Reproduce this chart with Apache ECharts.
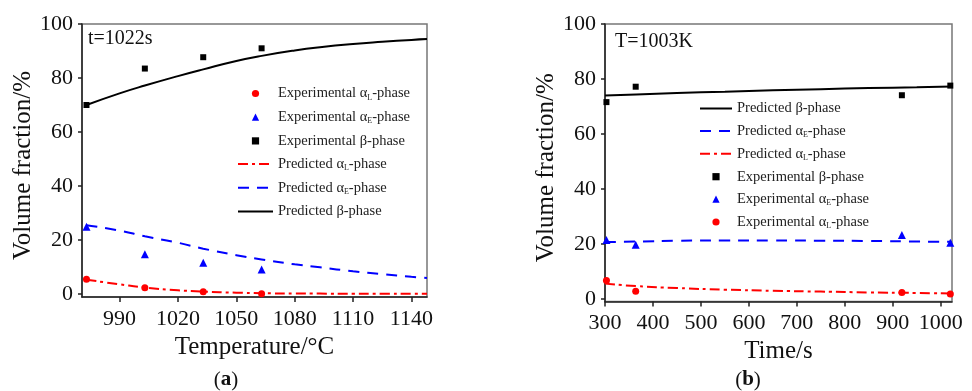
<!DOCTYPE html>
<html>
<head>
<meta charset="utf-8">
<script src="https://cdn.jsdelivr.net/npm/echarts@6/dist/echarts.min.js"></script>
<style>
  html, body { margin: 0; background: #fff; }
  #chart { width: 972px; height: 391px; }
</style>
</head>
<body>
<div id="chart"></div>
<script>
// (a) t=1022s, volume fraction vs temperature
const tempExpX = [973, 1003, 1033, 1063];
const tempExpAlphaL = [5.5, 2.3, 0.8, 0.1];
const tempExpAlphaE = [24.9, 14.7, 11.6, 9.1];
const tempExpBeta = [70, 83.5, 87.7, 91];

const tempPredX = [973, 990, 1003, 1020, 1033, 1050, 1063, 1080, 1093, 1110, 1125, 1140, 1148];
const tempPredAlphaL = [5.3, 3.6, 2.4, 1.4, 0.9, 0.5, 0.3, 0.2, 0.15, 0.1, 0.1, 0.1, 0.1];
const tempPredAlphaE = [25.5, 23.5, 21.4, 19, 16.8, 14.4, 12.8, 11, 9.9, 8.4, 7.4, 6.4, 5.9];
const tempPredBeta = [70, 74.3, 77.2, 80.7, 83.2, 86.3, 88.2, 90.2, 91.4, 92.6, 93.4, 94.1, 94.4];

// (b) T=1003K, volume fraction vs time
const timeExpX = [303, 364, 919, 1020];
const timeExpBeta = [71.6, 77.2, 74.1, 77.6];
const timeExpAlphaE = [21.5, 19.7, 23.3, 20.5];
const timeExpAlphaL = [6.7, 2.8, 2.4, 1.8];

const timePredX = [300, 365, 450, 550, 650, 750, 850, 950, 1023];
const timePredBeta = [74.0, 74.4, 74.9, 75.4, 75.9, 76.3, 76.7, 77.0, 77.3];
const timePredAlphaE = [20.7, 20.9, 21.2, 21.3, 21.3, 21.2, 21.1, 20.9, 20.8];
const timePredAlphaL = [5.6, 4.7, 4.0, 3.4, 3.0, 2.7, 2.4, 2.2, 2.0];

const yTicks = [0, 20, 40, 60, 80, 100];
const tempTicks = [990, 1020, 1050, 1080, 1110, 1140];
const timeTicks = [300, 400, 500, 600, 700, 800, 900, 1000];

const legendLeft = [
  "Experimental αL-phase", "Experimental αE-phase", "Experimental β-phase",
  "Predicted αL-phase", "Predicted αE-phase", "Predicted β-phase"
];
const legendRight = [
  "Predicted β-phase", "Predicted αE-phase", "Predicted αL-phase",
  "Experimental β-phase", "Experimental αE-phase", "Experimental αL-phase"
];

const SERIF = "'Liberation Serif', 'DejaVu Serif', serif";
const RED = "#ff0000";
const BLUE = "#0000ff";
const BLACK = "#000000";

const zip = (xs, ys) => xs.map((x, i) => [x, ys[i]]);

function legendLabel(name) {
  const m = name.match(/^(.*α)([LE])(-phase)$/);
  if (!m) return "{n|" + name + "}";
  return "{n|" + m[1] + "}{s|" + m[2] + "}{n|" + m[3] + "}";
}

const legendRich = {
  n: { fontFamily: SERIF, fontSize: 14.5, color: "#222", lineHeight: 16 },
  s: { fontFamily: SERIF, fontSize: 8, color: "#222", lineHeight: 10, verticalAlign: "bottom" }
};

// predicted lines get no marker in the legend; experimental points get no line
function legendItems(names) {
  return names.map(name => name.startsWith("Predicted")
    ? { name, itemStyle: { opacity: 0 } }
    : { name, lineStyle: { opacity: 0 } });
}

function predLine(name, idx, xs, ys, color, type) {
  return {
    name, type: "line", xAxisIndex: idx, yAxisIndex: idx,
    data: zip(xs, ys), smooth: true, symbol: "none",
    lineStyle: { color, width: 2, type },
    itemStyle: { color }, z: 2
  };
}

// drawn as a line series with a hidden line so the legend marker keeps its shape
function expPoints(name, idx, xs, ys, color, symbol, size) {
  return {
    name, type: "line", xAxisIndex: idx, yAxisIndex: idx,
    data: zip(xs, ys), symbol, symbolSize: size, showSymbol: true,
    lineStyle: { width: 0, opacity: 0 },
    itemStyle: { color }, z: 3
  };
}

function yAxisOpt(idx, min) {
  return {
    type: "value", gridIndex: idx, min, max: 100,
    name: "Volume fraction/%", nameLocation: "middle", nameGap: 31,
    nameTextStyle: { fontFamily: SERIF, fontSize: 25, color: "#111", padding: [0, 10, 0, 0] },
    axisLine: { show: true, onZero: false, lineStyle: { color: "#222", width: 1.5 } },
    axisTick: { show: true, length: 4, customValues: yTicks, lineStyle: { color: "#222", width: 1.5 } },
    axisLabel: { customValues: yTicks, margin: 9, fontFamily: SERIF, fontSize: 22, color: "#111",
      formatter: v => String(v) },
    splitLine: { show: false }
  };
}

function xAxisOpt(idx, min, max, ticks, name) {
  return {
    type: "value", gridIndex: idx, min, max,
    name, nameLocation: "middle", nameGap: 33,
    nameTextStyle: { fontFamily: SERIF, fontSize: 25, color: "#111" },
    axisLine: { show: true, onZero: false, lineStyle: { color: "#222", width: 1.5 } },
    axisTick: { show: true, length: 5, customValues: ticks, lineStyle: { color: "#222", width: 1.5 } },
    axisLabel: { customValues: ticks, margin: 11, fontFamily: SERIF, fontSize: 22, color: "#111",
      formatter: v => String(v) },
    splitLine: { show: false }
  };
}

const chart = echarts.init(document.getElementById("chart"), null, { renderer: "canvas" });

chart.setOption({
  backgroundColor: "#ffffff",
  animation: false,
  grid: [
    { left: 82, top: 24, width: 345, height: 273, show: true, borderColor: "#777", borderWidth: 1.5 },
    { left: 605, top: 24, width: 347, height: 277.5, show: true, borderColor: "#777", borderWidth: 1.5 }
  ],
  xAxis: [
    xAxisOpt(0, 970.7, 1148, tempTicks, "Temperature/°C"),
    xAxisOpt(1, 300, 1023.5, timeTicks, "Time/s")
  ],
  yAxis: [yAxisOpt(0, -1.1), yAxisOpt(1, -0.9)],
  legend: [
    {
      data: legendItems(legendLeft), orient: "vertical", left: 237, top: 86, padding: 0,
      itemWidth: 35, itemHeight: 9, itemGap: 8.2, selectedMode: false,
      formatter: legendLabel, textStyle: { rich: legendRich }
    },
    {
      data: legendItems(legendRight), orient: "vertical", left: 699, top: 101, padding: 0,
      itemWidth: 32, itemHeight: 9, itemGap: 7.4, selectedMode: false,
      formatter: legendLabel, textStyle: { rich: legendRich }
    }
  ],
  graphic: [
    { type: "text", left: 88, top: 29, style: { text: "t=1022s", font: "20px " + SERIF, fill: "#111" } },
    { type: "text", left: 615, top: 32, style: { text: "T=1003K", font: "20px " + SERIF, fill: "#111" } },
    {
      type: "text", x: 226, y: 380,
      style: {
        text: "{p|(}{b|a}{p|)}", align: "center", verticalAlign: "middle",
        rich: {
          p: { fontFamily: SERIF, fontSize: 21, fill: "#111" },
          b: { fontFamily: SERIF, fontSize: 21, fontWeight: "bold", fill: "#111" }
        }
      }
    },
    {
      type: "text", x: 748, y: 380,
      style: {
        text: "{p|(}{b|b}{p|)}", align: "center", verticalAlign: "middle",
        rich: {
          p: { fontFamily: SERIF, fontSize: 21, fill: "#111" },
          b: { fontFamily: SERIF, fontSize: 21, fontWeight: "bold", fill: "#111" }
        }
      }
    }
  ],
  series: [
    expPoints("Experimental αL-phase", 0, tempExpX, tempExpAlphaL, RED, "circle", 7),
    expPoints("Experimental αE-phase", 0, tempExpX, tempExpAlphaE, BLUE, "triangle", 8),
    expPoints("Experimental β-phase", 0, tempExpX, tempExpBeta, BLACK, "rect", 6),
    predLine("Predicted αL-phase", 0, tempPredX, tempPredAlphaL, RED, [10, 4, 3, 4]),
    predLine("Predicted αE-phase", 0, tempPredX, tempPredAlphaE, BLUE, [11, 8]),
    predLine("Predicted β-phase", 0, tempPredX, tempPredBeta, BLACK, "solid"),

    predLine("Predicted β-phase", 1, timePredX, timePredBeta, BLACK, "solid"),
    predLine("Predicted αE-phase", 1, timePredX, timePredAlphaE, BLUE, [11, 8]),
    predLine("Predicted αL-phase", 1, timePredX, timePredAlphaL, RED, [10, 4, 3, 4]),
    expPoints("Experimental β-phase", 1, timeExpX, timeExpBeta, BLACK, "rect", 6),
    expPoints("Experimental αE-phase", 1, timeExpX, timeExpAlphaE, BLUE, "triangle", 8),
    expPoints("Experimental αL-phase", 1, timeExpX, timeExpAlphaL, RED, "circle", 7)
  ]
});
</script>
</body>
</html>
